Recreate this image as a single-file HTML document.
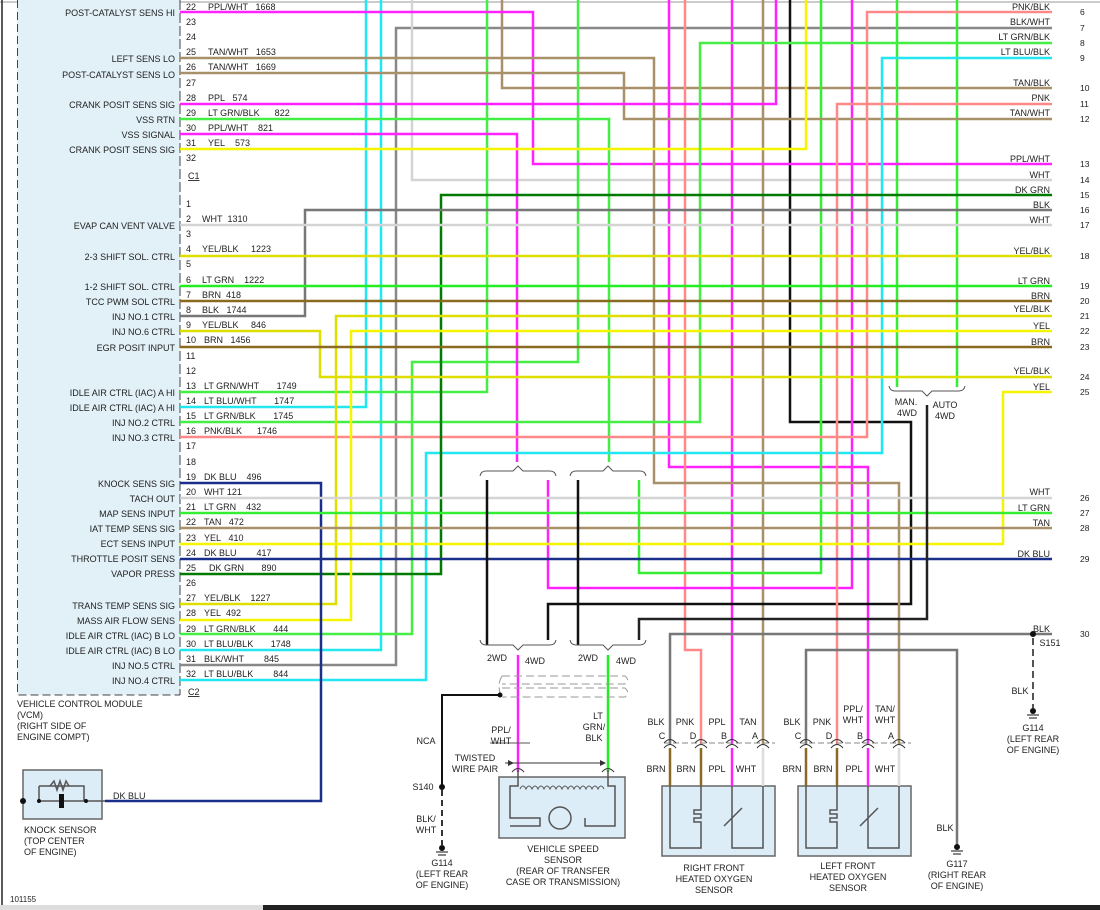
<!DOCTYPE html>
<html><head><meta charset="utf-8"><style>
body{margin:0;background:#fff;}
svg{display:block;font-family:"Liberation Sans",sans-serif;font-size:9px;}
.f{text-anchor:end}
</style></head><body>
<svg width="1100" height="910" viewBox="0 0 1100 910" xmlns="http://www.w3.org/2000/svg">
<rect x="0" y="0" width="1100" height="910" fill="#fff"/>
<line x1="0" y1="2" x2="1100" y2="2" stroke="#ccc" stroke-width="2"/>
<line x1="2" y1="0" x2="2" y2="905" stroke="#222" stroke-width="1.5"/>
<!-- VCM box -->
<rect x="17" y="0" width="163" height="695" fill="#e2f0f8"/>
<path d="M17.5 0 V695 H180" fill="none" stroke="#444" stroke-dasharray="8,4"/>
<line x1="180" y1="0" x2="180" y2="695" stroke="#444" stroke-dasharray="10,3"/>
<g fill="none" stroke-width="2.5" stroke-linejoin="miter">
<polyline stroke="#22e6f0" points="366,0 366,407 180,407"/>
<polyline stroke="#22e6f0" points="381,0 381,650 180,650"/>
<polyline stroke="#888" points="1052,28 396,28 396,665 180,665"/>
<polyline stroke="#d4d4d4" points="412,0 412,180 1052,180"/>
<polyline stroke="#44ee44" points="487,0 487,392 180,392"/>
<polyline stroke="#a89068" points="502,0 502,88 1052,88"/>
<polyline stroke="#44ee44" points="578,0 578,362 412,362 412,634 180,634"/>
<polyline stroke="#ff22ff" points="669,0 669,467 868,467 868,745"/>
<polyline stroke="#ff8888" points="685,0 685,650 701,650 701,745"/>
<polyline stroke="#ff22ff" points="732,0 732,745"/>
<polyline stroke="#a89068" points="763,0 763,745"/>
<polyline stroke="#111" points="790,0 790,422 911,422 911,604 548,604 548,640"/>
<polyline stroke="#33ee33" points="821,0 821,573 639,573 639,480"/>
<polyline stroke="#ff22ff" points="852,0 852,588 548,588 548,480"/>
<polyline stroke="#33ee33" points="897,0 897,387"/>
<polyline stroke="#33ee33" points="957,0 957,387"/>
<polyline stroke="#ff22ff" points="180,12 533,12 533,164 1052,164"/>
<polyline stroke="#a89068" points="180,58 654,58 654,483 899,483 899,745"/>
<polyline stroke="#a89068" points="180,73 624,73 624,119 1052,119"/>
<polyline stroke="#ff22ff" points="180,104 776,104 776,0"/>
<polyline stroke="#44ee44" points="180,119 609,119 609,462"/>
<polyline stroke="#ff22ff" points="180,134 517,134 517,462"/>
<polyline stroke="#f5f500" points="180,149 806,149 806,0"/>
<polyline stroke="#ff8888" points="1052,12 867,12 867,437 180,437"/>
<polyline stroke="#44ee44" points="1052,43 700,43 700,422 180,422"/>
<polyline stroke="#22e6f0" points="1052,58 882,58 882,453 426,453 426,680 180,680"/>
<polyline stroke="#ff8888" points="1052,104 837,104 837,745"/>
<polyline stroke="#007a00" points="1052,195 441,195 441,574 180,574"/>
<polyline stroke="#777" points="1052,210 305,210 305,316 180,316"/>
<polyline stroke="#d4d4d4" points="180,225 1052,225"/>
<polyline stroke="#dede00" points="180,256 1052,256"/>
<polyline stroke="#22ee22" points="180,286 1052,286"/>
<polyline stroke="#8a6a20" points="180,301 1052,301"/>
<polyline stroke="#dede00" points="1052,316 336,316 336,604 180,604"/>
<polyline stroke="#f5f500" points="1052,331 351,331 351,620 180,620"/>
<polyline stroke="#dede00" points="180,331 320,331 320,377 1052,377"/>
<polyline stroke="#8a6a20" points="180,347 1052,347"/>
<polyline stroke="#f5f500" points="1052,392 1003,392 1003,544 180,544"/>
<polyline stroke="#1a2f8a" points="180,483 321,483 321,801 105,801"/>
<polyline stroke="#d4d4d4" points="180,498 1052,498"/>
<polyline stroke="#33ee33" points="180,513 1052,513"/>
<polyline stroke="#a89068" points="180,528 1052,528"/>
<polyline stroke="#1a2f8a" points="180,559 1052,559"/>
<polyline stroke="#222" points="927,405 927,619 639,619 639,640"/>
<line stroke="#111" x1="487" y1="480" x2="487" y2="645"/>
<line stroke="#111" x1="578" y1="480" x2="578" y2="645"/>
<line stroke="#ff22ff" x1="518" y1="655" x2="518" y2="772"/>
<line stroke="#22ee22" x1="608" y1="655" x2="608" y2="772"/>
<polyline stroke="#111" stroke-width="2" points="500,695 442,695 442,787"/>
<line stroke="#333" stroke-width="2" stroke-dasharray="6,4" x1="442" y1="790" x2="442" y2="845"/>
<polyline stroke="#777" points="1052,634 670,634 670,745"/>
<polyline stroke="#777" points="957,846 957,650 806,650 806,745"/>
<line stroke="#555" stroke-width="2" stroke-dasharray="7,4" x1="1033" y1="638" x2="1033" y2="708"/>
</g>
<g fill="none" stroke="#555" stroke-width="1">
<path d="M480 476 Q481 471 486 471 H513 L518 466 L523 471 H550 Q555 471 556 476"/>
<path d="M570 476 Q571 471 576 471 H603 L608 466 L613 471 H640 Q645 471 646 476"/>
<path d="M480 640 Q481 645 486 645 H513 L518 650 L523 645 H550 Q555 645 556 640"/>
<path d="M570 640 Q571 645 576 645 H603 L608 650 L613 645 H640 Q645 645 646 640"/>
<path d="M889 386 Q890 391 895 391 H922 L927 396 L932 391 H959 Q964 391 965 386"/>
<path d="M502 676 H625 Q630 680 625 684 H502 M502 688 H625 Q630 692 625 697 H502 M502 676 Q496 686 502 697" stroke="#999" stroke-dasharray="8,4"/>
<line x1="490" y1="743" x2="530" y2="743"/>
</g>
<g fill="none">
<line x1="664" y1="743" x2="775" y2="743" stroke="#888" stroke-dasharray="6,3"/>
<line x1="800" y1="743" x2="911" y2="743" stroke="#888" stroke-dasharray="6,3"/>
<g stroke="#333" stroke-width="1">
<path d="M664 743 Q670 736 676 743 M664 748 Q670 741 676 748"/>
<path d="M695 743 Q701 736 707 743 M695 748 Q701 741 707 748"/>
<path d="M726 743 Q732 736 738 743 M726 748 Q732 741 738 748"/>
<path d="M757 743 Q763 736 769 743 M757 748 Q763 741 769 748"/>
<path d="M800 743 Q806 736 812 743 M800 748 Q806 741 812 748"/>
<path d="M831 743 Q837 736 843 743 M831 748 Q837 741 843 748"/>
<path d="M862 743 Q868 736 874 743 M862 748 Q868 741 874 748"/>
<path d="M893 743 Q899 736 905 743 M893 748 Q899 741 905 748"/>
<path d="M512 772 Q518 765 524 772 M602 772 Q608 765 614 772"/>
</g>
<rect x="662" y="786" width="113" height="70" fill="#dcedf7" stroke="#666" stroke-width="1.5"/>
<rect x="798" y="786" width="113" height="70" fill="#dcedf7" stroke="#666" stroke-width="1.5"/>
<rect x="499" y="777" width="126" height="61" fill="#dcedf7" stroke="#666" stroke-width="1.5"/>
<rect x="23" y="770" width="79" height="49" fill="#dcedf7" stroke="#666" stroke-width="1.5"/>
<g stroke-width="2.5">
<line x1="670" y1="748" x2="670" y2="786" stroke="#8a6a20"/><line x1="701" y1="748" x2="701" y2="786" stroke="#8a6a20"/>
<line x1="732" y1="748" x2="732" y2="786" stroke="#ff22ff"/><line x1="763" y1="748" x2="763" y2="786" stroke="#ddd"/>
<line x1="806" y1="748" x2="806" y2="786" stroke="#8a6a20"/><line x1="837" y1="748" x2="837" y2="786" stroke="#8a6a20"/>
<line x1="868" y1="748" x2="868" y2="786" stroke="#ff22ff"/><line x1="899" y1="748" x2="899" y2="786" stroke="#ddd"/>
</g>
<g stroke="#555" stroke-width="1.5">
<path d="M670 786 V848 H701 V822 H694 V818 H701 V814 H694 V810 H701 V786"/>
<path d="M732 786 V848 H763 V786 M724 826 L742 808"/>
<path d="M806 786 V848 H837 V822 H830 V818 H837 V814 H830 V810 H837 V786"/>
<path d="M868 786 V848 H899 V786 M860 826 L878 808"/>
<path d="M518 770 V786 H510 V818 H540 V826 H510 M608 770 V786 H615 V826 H585 V818"/>
<circle cx="560" cy="818" r="11"/>
<path d="M37 801 H105 M39 786 H84 V801 M39 786 V801"/>
<path d="M50 786 L54 781 L57 790 L60 781 L63 790 L66 781 L69 786"/>
</g>
<path d="M520 789 q3 -6 6 0 q3 -6 6 0 q3 -6 6 0 q3 -6 6 0 q3 -6 6 0 q3 -6 6 0 q3 -6 6 0 q3 -6 6 0 q3 -6 6 0 q3 -6 6 0 q3 -6 6 0 q3 -6 6 0 q3 -6 6 0 q3 -6 6 0" stroke="#555" stroke-width="1"/>
<rect x="59" y="794" width="5" height="14" fill="#111"/>
<line x1="505" y1="763" x2="600" y2="763" stroke="#333"/>
<path d="M600 760 L606 763 L600 766Z M508 760 L514 763 L508 766Z" fill="#333"/>
</g>
<g fill="#111">
<circle cx="500" cy="695" r="2.5"/><circle cx="442" cy="787" r="3"/><circle cx="1033" cy="634" r="3"/>
<circle cx="23" cy="801" r="3"/><circle cx="39" cy="801" r="2"/><circle cx="86" cy="801" r="2"/>
<circle cx="442" cy="848" r="3"/><circle cx="957" cy="847" r="3"/><circle cx="1033" cy="711" r="3"/>
</g>
<g stroke="#111" stroke-width="1">
<path d="M436 852 H448 M438 855 H446 M951 851 H963 M953 854 H961 M1027 715 H1039 M1029 718 H1037"/>
</g>
<g class="f" fill="#222">
<text x="175" y="16">POST-CATALYST SENS HI</text>
<text x="175" y="62">LEFT SENS LO</text>
<text x="175" y="78">POST-CATALYST SENS LO</text>
<text x="175" y="108">CRANK POSIT SENS SIG</text>
<text x="175" y="123">VSS RTN</text>
<text x="175" y="138">VSS SIGNAL</text>
<text x="175" y="153">CRANK POSIT SENS SIG</text>
<text x="175" y="229">EVAP CAN VENT VALVE</text>
<text x="175" y="260">2-3 SHIFT SOL. CTRL</text>
<text x="175" y="290">1-2 SHIFT SOL. CTRL</text>
<text x="175" y="305">TCC PWM SOL CTRL</text>
<text x="175" y="320">INJ NO.1 CTRL</text>
<text x="175" y="335">INJ NO.6 CTRL</text>
<text x="175" y="351">EGR POSIT INPUT</text>
<text x="175" y="396">IDLE AIR CTRL (IAC) A HI</text>
<text x="175" y="411">IDLE AIR CTRL (IAC) A HI</text>
<text x="175" y="426">INJ NO.2 CTRL</text>
<text x="175" y="441">INJ NO.3 CTRL</text>
<text x="175" y="487">KNOCK SENS SIG</text>
<text x="175" y="502">TACH OUT</text>
<text x="175" y="517">MAP SENS INPUT</text>
<text x="175" y="532">IAT TEMP SENS SIG</text>
<text x="175" y="547">ECT SENS INPUT</text>
<text x="175" y="562">THROTTLE POSIT SENS</text>
<text x="175" y="577">VAPOR PRESS</text>
<text x="175" y="609">TRANS TEMP SENS SIG</text>
<text x="175" y="624">MASS AIR FLOW SENS</text>
<text x="175" y="639">IDLE AIR CTRL (IAC) B LO</text>
<text x="175" y="654">IDLE AIR CTRL (IAC) B LO</text>
<text x="175" y="669">INJ NO.5 CTRL</text>
<text x="175" y="684">INJ NO.4 CTRL</text>
</g>
<g fill="#222">
<text x="186" y="10">22</text><text x="208" y="10">PPL/WHT&#160;&#160;&#160;1668</text>
<text x="186" y="25">23</text><text x="186" y="40">24</text>
<text x="186" y="55">25</text><text x="208" y="55">TAN/WHT&#160;&#160;&#160;1653</text>
<text x="186" y="70">26</text><text x="208" y="70">TAN/WHT&#160;&#160;&#160;1669</text>
<text x="186" y="86">27</text>
<text x="186" y="101">28</text><text x="208" y="101">PPL&#160;&#160;&#160;574</text>
<text x="186" y="116">29</text><text x="208" y="116">LT GRN/BLK&#160;&#160;&#160;&#160;&#160;&#160;822</text>
<text x="186" y="131">30</text><text x="208" y="131">PPL/WHT&#160;&#160;&#160;&#160;821</text>
<text x="186" y="146">31</text><text x="208" y="146">YEL&#160;&#160;&#160;&#160;573</text>
<text x="186" y="161">32</text>
<text x="188" y="179" text-decoration="underline">C1</text>
<text x="186" y="207">1</text>
<text x="186" y="222">2</text><text x="202" y="222">WHT&#160;&#160;1310</text>
<text x="186" y="237">3</text>
<text x="186" y="252">4</text><text x="202" y="252">YEL/BLK&#160;&#160;&#160;&#160;&#160;1223</text>
<text x="186" y="267">5</text>
<text x="186" y="283">6</text><text x="202" y="283">LT GRN&#160;&#160;&#160;&#160;1222</text>
<text x="186" y="298">7</text><text x="202" y="298">BRN&#160;&#160;418</text>
<text x="186" y="313">8</text><text x="202" y="313">BLK&#160;&#160;&#160;1744</text>
<text x="186" y="328">9</text><text x="202" y="328">YEL/BLK&#160;&#160;&#160;&#160;&#160;846</text>
<text x="186" y="343">10</text><text x="204" y="343">BRN&#160;&#160;&#160;1456</text>
<text x="186" y="359">11</text><text x="186" y="374">12</text>
<text x="186" y="389">13</text><text x="204" y="389">LT GRN/WHT&#160;&#160;&#160;&#160;&#160;&#160;&#160;1749</text>
<text x="186" y="404">14</text><text x="204" y="404">LT BLU/WHT&#160;&#160;&#160;&#160;&#160;&#160;&#160;1747</text>
<text x="186" y="419">15</text><text x="204" y="419">LT GRN/BLK&#160;&#160;&#160;&#160;&#160;&#160;&#160;1745</text>
<text x="186" y="434">16</text><text x="204" y="434">PNK/BLK&#160;&#160;&#160;&#160;&#160;&#160;1746</text>
<text x="186" y="449">17</text><text x="186" y="465">18</text>
<text x="186" y="480">19</text><text x="204" y="480">DK BLU&#160;&#160;&#160;&#160;496</text>
<text x="186" y="495">20</text><text x="204" y="495">WHT 121</text>
<text x="186" y="510">21</text><text x="204" y="510">LT GRN&#160;&#160;&#160;&#160;432</text>
<text x="186" y="525">22</text><text x="204" y="525">TAN&#160;&#160;&#160;472</text>
<text x="186" y="541">23</text><text x="204" y="541">YEL&#160;&#160;&#160;410</text>
<text x="186" y="556">24</text><text x="204" y="556">DK BLU&#160;&#160;&#160;&#160;&#160;&#160;&#160;&#160;417</text>
<text x="186" y="571">25</text><text x="209" y="571">DK GRN&#160;&#160;&#160;&#160;&#160;&#160;&#160;890</text>
<text x="186" y="586">26</text>
<text x="186" y="601">27</text><text x="204" y="601">YEL/BLK&#160;&#160;&#160;&#160;1227</text>
<text x="186" y="616">28</text><text x="204" y="616">YEL&#160;&#160;492</text>
<text x="186" y="632">29</text><text x="204" y="632">LT GRN/BLK&#160;&#160;&#160;&#160;&#160;&#160;&#160;444</text>
<text x="186" y="647">30</text><text x="204" y="647">LT BLU/BLK&#160;&#160;&#160;&#160;&#160;&#160;&#160;1748</text>
<text x="186" y="662">31</text><text x="204" y="662">BLK/WHT&#160;&#160;&#160;&#160;&#160;&#160;&#160;&#160;845</text>
<text x="186" y="677">32</text><text x="204" y="677">LT BLU/BLK&#160;&#160;&#160;&#160;&#160;&#160;&#160;&#160;844</text>
<text x="188" y="695" text-decoration="underline">C2</text>
<text x="17" y="707">VEHICLE CONTROL MODULE</text>
<text x="17" y="718">(VCM)</text>
<text x="17" y="729">(RIGHT SIDE OF</text>
<text x="17" y="740">ENGINE COMPT)</text>
<text x="113" y="799">DK BLU</text>
<text x="24" y="833">KNOCK SENSOR</text>
<text x="24" y="844">(TOP CENTER</text>
<text x="24" y="855">OF ENGINE)</text>
<text x="10" y="902" font-size="8">101155</text>
</g>
<g class="f" fill="#222">
<text x="1050" y="10">PNK/BLK</text><text x="1050" y="25">BLK/WHT</text><text x="1050" y="40">LT GRN/BLK</text><text x="1050" y="55">LT BLU/BLK</text>
<text x="1050" y="86">TAN/BLK</text><text x="1050" y="101">PNK</text><text x="1050" y="116">TAN/WHT</text>
<text x="1050" y="162">PPL/WHT</text><text x="1050" y="178">WHT</text><text x="1050" y="193">DK GRN</text><text x="1050" y="208">BLK</text><text x="1050" y="223">WHT</text>
<text x="1050" y="254">YEL/BLK</text><text x="1050" y="284">LT GRN</text><text x="1050" y="299">BRN</text><text x="1050" y="312">YEL/BLK</text><text x="1050" y="329">YEL</text><text x="1050" y="345">BRN</text>
<text x="1050" y="374">YEL/BLK</text><text x="1050" y="390">YEL</text>
<text x="1050" y="495">WHT</text><text x="1050" y="511">LT GRN</text><text x="1050" y="526">TAN</text><text x="1050" y="557">DK BLU</text><text x="1050" y="632">BLK</text>
</g>
<g fill="#222" font-size="8.5">
<text x="1080" y="15">6</text><text x="1080" y="31">7</text><text x="1080" y="46">8</text><text x="1080" y="61">9</text>
<text x="1080" y="91">10</text><text x="1080" y="107">11</text><text x="1080" y="122">12</text>
<text x="1080" y="167">13</text><text x="1080" y="183">14</text><text x="1080" y="198">15</text><text x="1080" y="213">16</text><text x="1080" y="228">17</text>
<text x="1080" y="259">18</text><text x="1080" y="289">19</text><text x="1080" y="304">20</text><text x="1080" y="319">21</text><text x="1080" y="334">22</text><text x="1080" y="350">23</text>
<text x="1080" y="380">24</text><text x="1080" y="395">25</text>
<text x="1080" y="501">26</text><text x="1080" y="516">27</text><text x="1080" y="531">28</text><text x="1080" y="562">29</text><text x="1080" y="637">30</text>
</g>
<g fill="#222" text-anchor="middle">
<text x="906" y="405">MAN.</text><text x="907" y="416">4WD</text>
<text x="945" y="408">AUTO</text><text x="945" y="419">4WD</text>
<text x="497" y="661">2WD</text><text x="535" y="664">4WD</text>
<text x="588" y="661">2WD</text><text x="626" y="664">4WD</text>
<text x="426" y="744">NCA</text>
<text x="501" y="733">PPL/</text><text x="501" y="744">WHT</text>
<text x="598" y="719">LT</text><text x="594" y="730">GRN/</text><text x="594" y="741">BLK</text>
<text x="475" y="761">TWISTED</text><text x="475" y="772">WIRE PAIR</text>
<text x="423" y="790">S140</text>
<text x="426" y="822">BLK/</text><text x="426" y="833">WHT</text>
<text x="442" y="866">G114</text><text x="442" y="877">(LEFT REAR</text><text x="442" y="888">OF ENGINE)</text>
<text x="563" y="852">VEHICLE SPEED</text><text x="563" y="863">SENSOR</text><text x="563" y="874">(REAR OF TRANSFER</text><text x="563" y="885">CASE OR TRANSMISSION)</text>
<text x="656" y="725">BLK</text><text x="685" y="725">PNK</text><text x="717" y="725">PPL</text><text x="748" y="725">TAN</text>
<text x="662" y="739">C</text><text x="693" y="739">D</text><text x="724" y="739">B</text><text x="755" y="739">A</text>
<text x="656" y="772">BRN</text><text x="686" y="772">BRN</text><text x="717" y="772">PPL</text><text x="746" y="772">WHT</text>
<text x="792" y="725">BLK</text><text x="822" y="725">PNK</text><text x="853" y="712">PPL/</text><text x="853" y="723">WHT</text><text x="885" y="712">TAN/</text><text x="885" y="723">WHT</text>
<text x="798" y="739">C</text><text x="829" y="739">D</text><text x="860" y="739">B</text><text x="891" y="739">A</text>
<text x="792" y="772">BRN</text><text x="823" y="772">BRN</text><text x="854" y="772">PPL</text><text x="885" y="772">WHT</text>
<text x="714" y="871">RIGHT FRONT</text><text x="714" y="882">HEATED OXYGEN</text><text x="714" y="893">SENSOR</text>
<text x="848" y="869">LEFT FRONT</text><text x="848" y="880">HEATED OXYGEN</text><text x="848" y="891">SENSOR</text>
<text x="945" y="831">BLK</text>
<text x="957" y="867">G117</text><text x="957" y="878">(RIGHT REAR</text><text x="957" y="889">OF ENGINE)</text>
<text x="1050" y="646">S151</text>
<text x="1020" y="694">BLK</text>
<text x="1033" y="731">G114</text><text x="1033" y="742">(LEFT REAR</text><text x="1033" y="753">OF ENGINE)</text>
</g>
<rect x="263" y="905" width="837" height="5" fill="#222"/>
<rect x="0" y="905" width="263" height="5" fill="#ddd"/>
</svg>
</body></html>
